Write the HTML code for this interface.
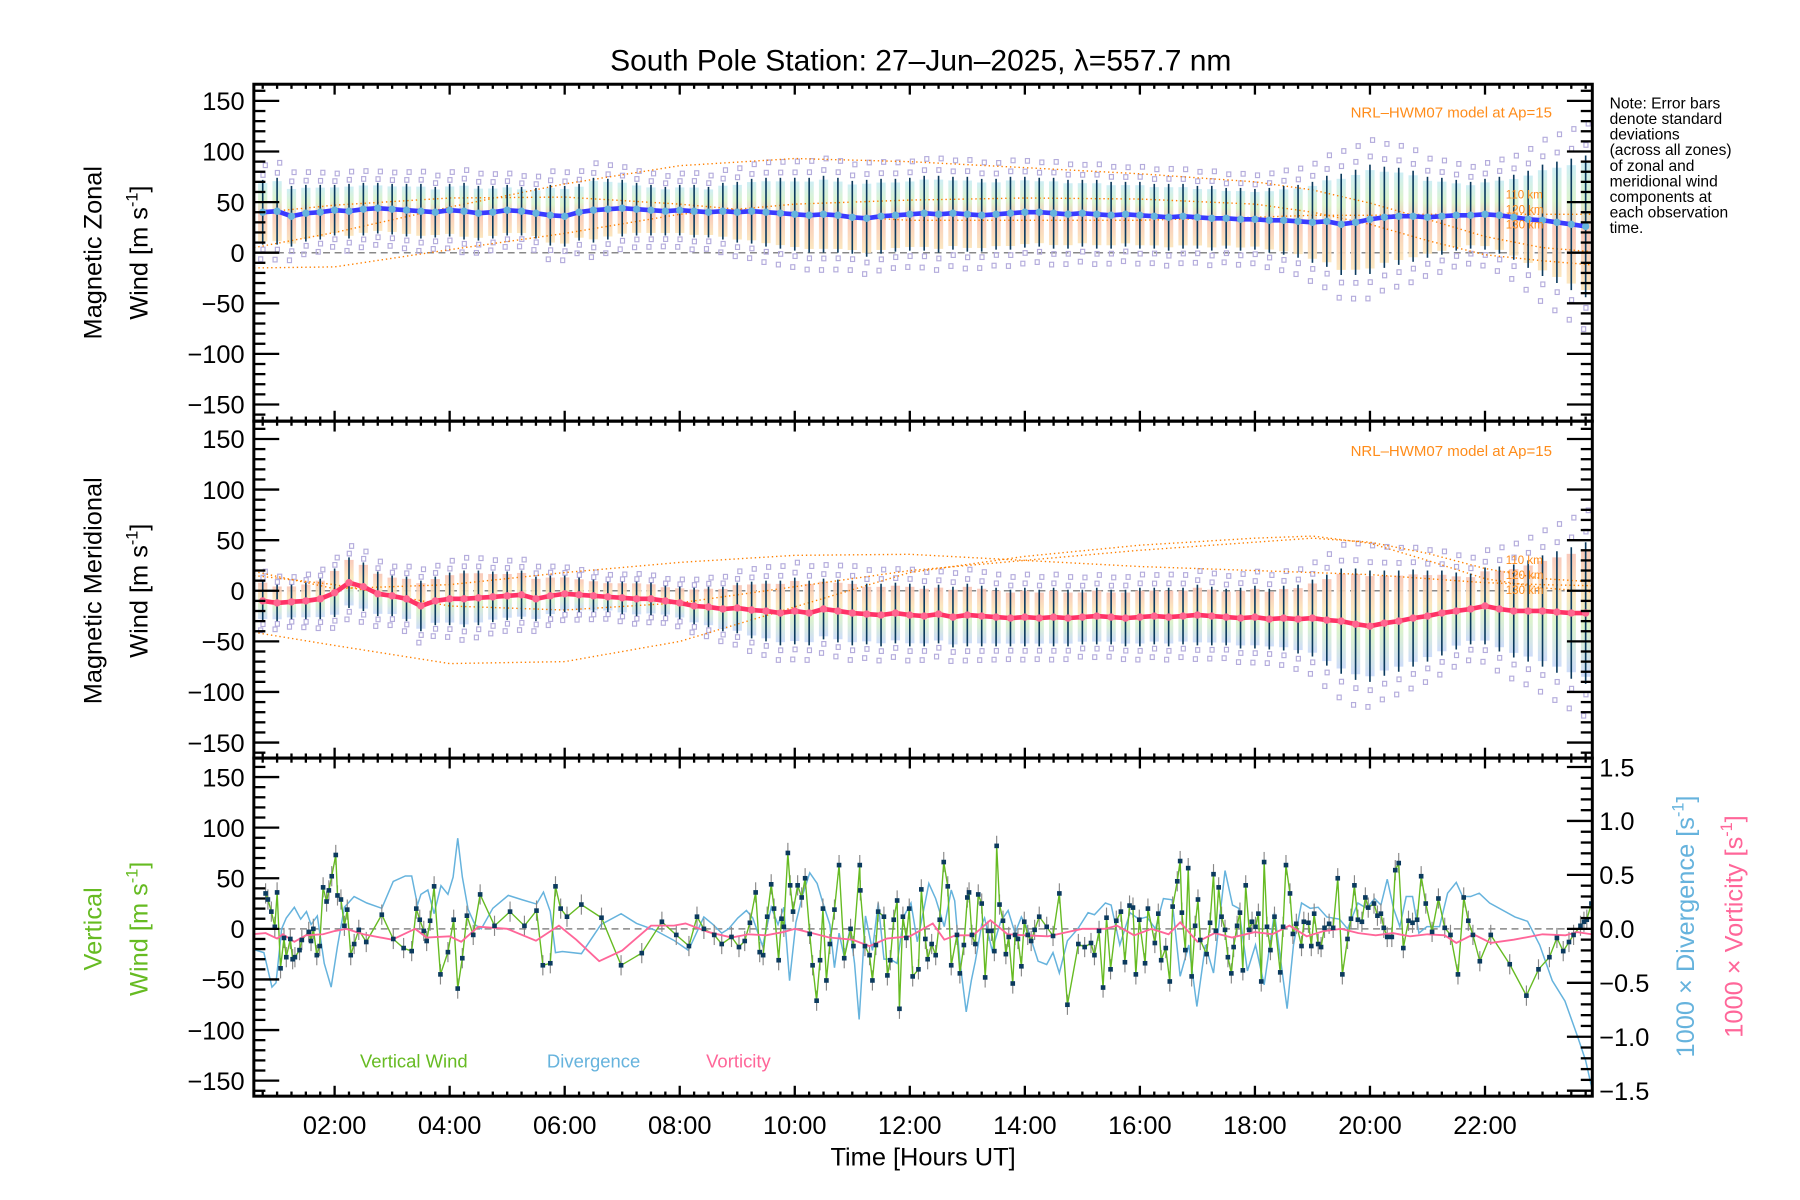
<!DOCTYPE html>
<html><head><meta charset="utf-8"><title>South Pole Station winds</title>
<style>
html,body{margin:0;padding:0;background:#fff;}
svg{display:block;}
text{font-family:"Liberation Sans","DejaVu Sans",sans-serif;}
</style></head>
<body>
<svg id="chart" width="1800" height="1200" viewBox="0 0 1560 1040" xmlns="http://www.w3.org/2000/svg">
<rect x="0" y="0" width="1560" height="1040" fill="#fff"/>
<defs>
<linearGradient id="gz" x1="0" y1="0" x2="0" y2="1">
<stop offset="0" stop-color="#c8ecf4"/><stop offset="0.3" stop-color="#d8f2c8"/><stop offset="0.55" stop-color="#f8c4b4"/><stop offset="1" stop-color="#fbe4b8"/></linearGradient>
<linearGradient id="gm" x1="0" y1="0" x2="0" y2="1">
<stop offset="0" stop-color="#f8c4b4"/><stop offset="0.35" stop-color="#fbe4b8"/><stop offset="0.6" stop-color="#d8f2c8"/><stop offset="1" stop-color="#c8d8f8"/></linearGradient>
</defs>
<text x="798" y="61" font-size="26" text-anchor="middle">South Pole Station: 27–Jun–2025, λ=557.7 nm</text>
<g id="layers"></g>
<text transform="translate(88,219) rotate(-90)" font-size="22" text-anchor="middle">Magnetic Zonal</text>
<text transform="translate(128,219) rotate(-90)" font-size="22" text-anchor="middle">Wind [m s<tspan font-size="14" dy="-9">-1</tspan><tspan dy="9">]</tspan></text>
<text transform="translate(88,512) rotate(-90)" font-size="22" text-anchor="middle">Magnetic Meridional</text>
<text transform="translate(128,512) rotate(-90)" font-size="22" text-anchor="middle">Wind [m s<tspan font-size="14" dy="-9">-1</tspan><tspan dy="9">]</tspan></text>
<text transform="translate(88,805) rotate(-90)" font-size="22" text-anchor="middle" fill="#66bb22">Vertical</text>
<text transform="translate(128,805) rotate(-90)" font-size="22" text-anchor="middle" fill="#66bb22">Wind [m s<tspan font-size="14" dy="-9">-1</tspan><tspan dy="9">]</tspan></text>
<text transform="translate(1468,803) rotate(-90)" font-size="22" text-anchor="middle" fill="#66b3dd">1000 × Divergence [s<tspan font-size="14" dy="-9">-1</tspan><tspan dy="9">]</tspan></text>
<text transform="translate(1510,803) rotate(-90)" font-size="22" text-anchor="middle" fill="#ff6699">1000 × Vorticity [s<tspan font-size="14" dy="-9">-1</tspan><tspan dy="9">]</tspan></text>
<text x="800" y="1010" font-size="22" text-anchor="middle">Time [Hours UT]</text>
<text x="312" y="925" font-size="16" fill="#66bb22">Vertical Wind</text>
<text x="474" y="925" font-size="16" fill="#66b3dd">Divergence</text>
<text x="612" y="925" font-size="16" fill="#ff6699">Vorticity</text>
<text x="1345" y="102" font-size="13" text-anchor="end" fill="#ff8c1a">NRL–HWM07 model at Ap=15</text>
<text x="1345" y="395" font-size="13" text-anchor="end" fill="#ff8c1a">NRL–HWM07 model at Ap=15</text>
<g font-size="10" fill="#ff8c1a">
<text x="1305" y="172">110 km</text><text x="1305" y="185">120 km</text><text x="1305" y="198">130 km</text></g>
<g font-size="10" fill="#ff8c1a">
<text x="1305" y="489">110 km</text><text x="1305" y="502">120 km</text><text x="1305" y="515">130 km</text></g>
<g font-size="13.5">
<text x="1395" y="94">Note: Error bars</text>
<text x="1395" y="107.5">denote standard</text>
<text x="1395" y="121">deviations</text>
<text x="1395" y="134.5">(across all zones)</text>
<text x="1395" y="148">of zonal and</text>
<text x="1395" y="161.5">meridional wind</text>
<text x="1395" y="175">components at</text>
<text x="1395" y="188.5">each observation</text>
<text x="1395" y="202">time.</text>
</g>
</svg>
<script>
// ---- data ----
const zonT = [0.75,1,1.25,1.5,1.75,2,2.25,2.5,2.75,3,3.25,3.5,3.75,4,4.25,4.5,4.75,5,5.25,5.5,5.75,6,6.25,6.5,6.75,7,7.25,7.5,7.75,8,8.25,8.5,8.75,9,9.25,9.5,9.75,10,10.25,10.5,10.75,11,11.25,11.5,11.75,12,12.25,12.5,12.75,13,13.25,13.5,13.75,14,14.25,14.5,14.75,15,15.25,15.5,15.75,16,16.25,16.5,16.75,17,17.25,17.5,17.75,18,18.25,18.5,18.75,19,19.25,19.5,19.75,20,20.25,20.5,20.75,21,21.25,21.5,21.75,22,22.25,22.5,22.75,23,23.25,23.5,23.75];
const zonMean = [40,41,36,39,40,42,41,43,44, 43,42,41,40,42,41,39,40,42, 41,39,37,36,40,42,43,44,43, 42,41,42,41,40,41,40,41,40, 39,38,37,38,37,35,34,36,37, 38,39,38,39,38,37,38,39,40, 40,39,38,39,38,37,38,37,36, 35,36,35,34,34,33,33,32,32, 31,30,31,28,30,33,35,36,36, 35,36,37,37,38,37,35,33,32, 30,28,26];
const zonSd = [32,33,30,28,27,25,27,26,25, 25,26,27,25,26,28,27,26,25, 24,25,30,30,28,32,30,28,26, 25,24,25,26,25,28,30,32,34, 35,36,37,38,37,36,38,37,36, 36,37,38,36,37,36,35,36,35, 34,35,34,33,34,33,32,33,32, 33,32,31,32,30,31,30,32,34, 36,40,45,50,52,54,50,48,45, 40,38,35,33,35,38,42,48,55, 60,65,70];
const merMean = [-10,-12,-11,-10,-8,-2,8,4,-3, -5,-8,-15,-10,-8,-8,-7,-6,-5, -4,-8,-5,-3,-4,-5,-6,-7,-8, -8,-10,-12,-15,-16,-18,-17,-19,-20, -22,-20,-22,-18,-20,-22,-23,-24,-22, -24,-25,-23,-26,-24,-25,-26,-27,-26, -27,-26,-27,-26,-25,-26,-27,-26,-25, -26,-25,-24,-25,-26,-27,-26,-28,-27, -28,-27,-29,-30,-33,-35,-32,-30,-27, -25,-22,-20,-18,-15,-18,-20,-20,-20, -21,-22,-22];
const merSd = [20,18,17,18,20,24,25,24,22, 20,22,25,24,26,28,27,25,24, 24,22,20,18,17,16,15,16,17, 16,15,16,18,20,22,25,28,30, 32,33,32,30,31,32,30,31,30, 31,30,29,30,31,30,29,28,29, 28,29,28,27,28,27,28,29,28, 29,28,30,29,28,30,31,30,32, 34,38,45,52,55,55,52,50,48, 45,42,38,35,38,42,46,50,55, 60,65,70];

const modelT = [0.6,2,4,6,8,10,12,14,16,18,19,20,21,22,23,23.85];
const zonModel110 = [5,20,45,68,86,93,90,84,78,70,62,49,33,16,5,1];
const zonModel120 = [39,47,54,55,48,38,32,32,32,35,37,37,38,38,38,38];
const zonModel130 = [-15,-14,3,19,38,48,52,54,53,48,40,28,12,-2,-8,-12];
const merModel110 = [19,2,6,18,28,35,36,30,24,20,18,16,12,8,6,5];
const merModel120 = [-41,-54,-72,-70,-50,-16,18,34,45,52,54,47,30,12,3,-1];
const merModel130 = [15,6,-15,-19,-12,4,20,30,40,48,52,48,37,22,12,9];

const vertT = [0.8,0.84,0.9,0.96,1.0,1.06,1.12,1.16,1.23,1.27,1.31,1.39,1.43,1.55,1.59,1.63,1.69,1.74,1.8,1.86,1.9,1.95,2.02,2.05,2.11,2.17,2.22,2.28,2.34,2.42,2.55,2.82,3.02,3.2,3.34,3.42,3.48,3.55,3.6,3.66,3.73,3.84,3.97,4.07,4.14,4.22,4.3,4.41,4.53,4.78,5.05,5.3,5.51,5.62,5.75,5.84,5.93,6.04,6.29,6.64,6.98,7.34,7.69,7.94,8.16,8.3,8.42,8.6,8.73,8.9,9.03,9.13,9.22,9.32,9.39,9.45,9.52,9.59,9.64,9.72,9.77,9.81,9.88,9.92,9.97,10.05,10.12,10.18,10.26,10.31,10.38,10.44,10.49,10.55,10.61,10.69,10.77,10.86,10.97,11.02,11.13,11.14,11.22,11.3,11.35,11.41,11.45,11.55,11.61,11.66,11.72,11.78,11.82,11.88,11.94,11.99,12.05,12.15,12.2,12.27,12.31,12.38,12.45,12.52,12.59,12.66,12.72,12.82,12.87,12.94,13.0,13.03,13.08,13.14,13.19,13.25,13.31,13.36,13.42,13.47,13.51,13.56,13.62,13.67,13.72,13.79,13.83,13.88,13.94,13.99,14.05,14.11,14.17,14.25,14.38,14.49,14.6,14.74,14.93,15.04,15.15,15.21,15.29,15.36,15.42,15.49,15.59,15.67,15.74,15.82,15.88,15.93,15.99,16.09,16.14,16.26,16.32,16.37,16.45,16.52,16.57,16.65,16.7,16.73,16.79,16.84,16.9,16.96,17.01,17.05,17.16,17.22,17.28,17.32,17.37,17.42,17.48,17.53,17.59,17.63,17.69,17.74,17.79,17.84,17.9,17.95,18.01,18.06,18.11,18.16,18.21,18.27,18.34,18.44,18.49,18.54,18.61,18.66,18.72,18.81,18.85,18.93,18.98,19.03,19.1,19.15,19.21,19.29,19.36,19.44,19.52,19.61,19.67,19.73,19.79,19.86,19.92,19.97,20.07,20.13,20.19,20.24,20.3,20.38,20.44,20.5,20.58,20.67,20.74,20.82,20.89,20.97,21.08,21.19,21.3,21.4,21.53,21.63,21.71,21.79,21.91,22.1,22.43,22.72,22.93,23.12,23.25,23.36,23.46,23.54,23.66,23.72,23.77,23.85];
const vertW = [35,29,17,2,36,-39,-9,-28,-10,-30,-28,-21,-11,-3,-12,0,-26,-17,41,27,38,52,73,33,29,3,19,-26,-15,-1,-13,14,-10,-19,-22,20,9,-2,-12,8,42,-45,-23,9,-59,-29,13,-6,34,3,17,3,18,-36,-34,42,20,12,24,11,-36,-24,7,-6,-17,12,0,-6,-15,-8,-18,-12,6,36,-23,-26,12,44,20,-31,10,2,75,43,17,43,31,50,-5,-36,-71,-31,20,-51,-15,19,63,-29,0,-17,63,38,-17,-26,-51,-16,17,12,-46,-31,9,28,-79,12,-9,20,-47,-40,39,-10,-30,-15,-26,9,66,42,-36,-6,-44,-16,31,36,-6,-15,34,25,-48,-2,-2,-22,82,24,8,-25,-8,-54,-6,-10,-37,7,-6,-12,-1,12,2,-7,35,-75,-15,-18,-14,-26,-2,-58,11,-40,8,17,-33,23,21,-45,9,-34,20,-14,15,-31,-19,-52,22,47,67,16,-21,60,-47,3,29,-11,-25,6,54,-2,41,12,-1,-28,-44,-18,3,16,-41,43,-1,7,2,15,-52,66,2,-21,12,-43,2,63,35,-5,5,-17,7,6,-17,15,-15,-18,1,5,1,50,-45,-10,10,43,9,7,31,21,25,13,15,1,-8,-8,58,65,-19,8,6,9,52,25,-3,30,1,-6,-45,31,8,-6,-32,-6,-35,-66,-40,-28,-9,-22,-13,-6,3,7,9,25];
const VERT_ERR = 10;

const divT = [0.59,0.77,0.91,0.98,1.08,1.16,1.30,1.41,1.51,1.59,1.70,1.82,1.94,2.05,2.17,2.34,2.56,2.82,3.02,3.23,3.34,3.44,3.50,3.62,3.73,3.85,3.97,4.06,4.14,4.22,4.32,4.44,4.55,4.75,5.02,5.26,5.51,5.63,5.75,5.84,5.96,6.29,6.63,6.98,7.25,7.56,7.91,8.15,8.42,8.58,8.73,8.85,9.01,9.16,9.27,9.44,9.59,9.71,9.81,9.91,10.02,10.14,10.26,10.39,10.49,10.61,10.69,10.77,10.86,10.96,11.04,11.12,11.23,11.35,11.45,11.55,11.66,11.78,11.90,12.02,12.13,12.25,12.33,12.45,12.60,12.72,
12.78,12.87,12.98,13.07,13.14,13.25,13.30,13.43,13.58,13.71,13.83,13.94,14.05,14.23,14.38,14.49,14.60,14.74,14.92,15.10,15.21,15.40,15.50,15.65,15.83,15.98,16.12,16.27,16.41,16.56,16.70,16.85,16.99,17.14,17.28,17.48,17.61,17.72,17.87,18.01,18.16,18.34,18.45,18.56,18.67,18.81,18.96,19.10,19.25,19.47,19.61,19.79,19.94,20.08,20.19,20.30,20.41,20.52,20.63,20.74,20.85,20.99,21.21,21.35,21.50,21.61,21.75,21.90,22.08,22.52,22.74,22.95,23.17,23.39,23.61,23.75,23.86];
const divV = [-0.19,-0.22,-0.54,-0.5,0,0.1,0.2,0.09,0.16,0.04,0.12,-0.32,-0.54,-0.16,0.2,0.3,0.24,0.19,0.44,0.49,0.49,0.22,0.32,0.36,0.14,0.4,0.32,0.48,0.84,0.48,0.18,0.04,0,0.19,0.31,0.27,0.23,0.34,0.16,-0.22,-0.21,-0.23,0.04,0.14,0.05,-0.01,-0.11,-0.2,0.11,0.04,-0.04,0,0.1,0.17,0.1,-0.16,0.2,0.04,0.2,-0.48,0.06,0.32,0.52,0.42,0.24,0.04,-0.36,-0.04,-0.26,0,-0.32,-0.84,0.12,-0.2,0.24,-0.28,-0.28,-0.32,0.12,0.24,-0.12,0.2,0.42,0.28,0.02,0.36,
0.26,-0.3,-0.77,-0.48,-0.3,0.04,0.1,-0.2,0.07,0.17,-0.04,0.11,0,-0.3,-0.33,-0.22,-0.41,-0.11,0,0.15,0.13,0.24,0.22,-0.15,0.15,0.09,0.11,0,0.28,0.27,-0.44,-0.15,-0.72,-0.15,-0.41,0.54,0.22,0.19,-0.39,-0.15,-0.52,0.15,-0.3,-0.74,-0.15,0.24,0.19,0.2,0.11,0.09,0,0.24,0.19,0.28,0.22,0.46,0.19,0.02,0.3,0.3,-0.04,0.02,0.02,0.33,0.43,0.3,0.3,0.33,0.24,0.11,0.07,-0.15,-0.48,-0.67,-1.0,-1.22,-1.48];

const vortT = [0.55,0.8,1.0,1.1,1.3,1.5,1.8,2.0,2.2,2.5,3.0,3.4,3.6,4.0,4.2,4.5,5.0,5.5,5.9,6.2,6.6,7.0,7.5,7.9,8.1,8.5,8.9,9.2,9.5,9.8,10.0,10.3,10.6,11.0,11.3,11.6,12.0,12.4,12.6,12.8,13.1,13.4,13.7,14.0,14.4,15.0,15.4,15.6,15.9,16.2,16.5,16.7,17.0,17.3,17.6,18.0,18.3,18.6,18.9,19.2,19.5,19.8,20.1,20.4,20.7,21.0,21.3,21.5,21.8,22.1,22.5,23.0,23.4,23.6,23.85];
const vortV = [-0.05,-0.04,-0.09,-0.05,-0.12,-0.06,-0.05,-0.02,0,-0.05,-0.1,0,-0.08,-0.07,-0.12,0.02,0,-0.11,0.03,-0.1,-0.3,-0.2,0.03,0.03,0.05,-0.03,-0.08,-0.05,-0.06,-0.03,0,-0.04,-0.08,-0.1,-0.16,-0.09,-0.07,0.05,-0.1,-0.06,-0.06,0.08,-0.05,-0.06,-0.07,0,0,0.03,-0.06,0,-0.05,0.06,-0.12,-0.04,-0.08,-0.03,-0.05,0.03,-0.07,-0.02,0,-0.04,-0.06,-0.04,-0.07,-0.05,-0.06,-0.13,-0.05,-0.13,-0.1,-0.05,-0.06,-0.03,-0.05];

const xTickHours = [2,4,6,8,10,12,14,16,18,20,22];
const xTickLabels = ["02:00","04:00","06:00","08:00","10:00","12:00","14:00","16:00","18:00","20:00","22:00"];
const yTickVals = [150,100,50,0,-50,-100,-150];
const yTickLabels = ["150","100","50","0","\u221250","\u2212100","\u2212150"];
const rTickVals = [1.5,1.0,0.5,0.0,-0.5,-1.0,-1.5];
const rTickLabels = ["1.5","1.0","0.5","0.0","\u22120.5","\u22121.0","\u22121.5"];

// ---- scales ----
const L=220, R=1380;
const panels=[{top:73,bot:365,zero:219},{top:365,bot:657,zero:512},{top:657,bot:950,zero:805}];
const X = h => 190.3 + 49.85*h;
const PY = 0.877;
const Yp = (p,v) => panels[p].zero - v*PY;
const YR = d => 805 - d*93.5;
const NS="http://www.w3.org/2000/svg";
const root=document.getElementById('layers');
function mk(tag,attrs,parent){const e=document.createElementNS(NS,tag);for(const k in attrs)e.setAttribute(k,attrs[k]);(parent||root).appendChild(e);return e;}
function grp(name){const g=document.createElementNS(NS,'g');


root.appendChild(g);return g;}
function clip(id,p){const c=mk('clipPath',{id:id});mk('rect',{x:L,y:panels[p].top,width:R-L,height:panels[p].bot-panels[p].top},c);}
clip('c0',0);clip('c1',1);clip('c2',2);

for(let p=0;p<3;p++){const z=mk('line',{x1:L,x2:R,y1:panels[p].zero,y2:panels[p].zero,stroke:'#888','stroke-width':1.3,'stroke-dasharray':'6,4'});

}

function windPanel(p,T,M,S,grad,lineCol,dotCol,models,nm){
  const g=grp(nm+'-series'); g.setAttribute('clip-path','url(#c'+p+')');
  for(let i=0;i<T.length;i++){const x=X(T[i]);
    const b=mk('rect',{x:x-4,y:Yp(p,M[i]+S[i]*0.9),width:8,height:S[i]*1.8*PY,fill:'url(#'+grad+')',opacity:0.9},g);
    
    }
  for(let i=0;i<T.length;i++){const x=X(T[i]);
    for(const f of [1.15,1.45,-1.15,-1.45]){const q=mk('rect',{x:x-1.5+(f>0?1:-1)*(Math.abs(f)>1.3?2:0),y:Yp(p,M[i]+S[i]*f)-2,width:3.5,height:4,fill:'none',stroke:'#b4acdc','stroke-width':1},g);
      
      }}
  models.forEach((mv,k)=>{let d='';modelT.forEach((t,i)=>{d+=(i?'L':'M')+X(t).toFixed(1)+','+Yp(p,mv[i]).toFixed(1);});
    const m=mk('path',{d:d,fill:'none',stroke:'#ff8000','stroke-width':1.2,'stroke-dasharray':'1.2,2.5'},g);
    
    });
  for(let i=0;i<T.length;i++){const x=X(T[i]);
    const e=mk('line',{x1:x,x2:x,y1:Yp(p,M[i]+S[i]),y2:Yp(p,M[i]-S[i]),stroke:'#0b3a5e','stroke-width':1.4},g);
    
    }
  let d='';T.forEach((t,i)=>{d+=(i?'L':'M')+X(t).toFixed(1)+','+Yp(p,M[i]).toFixed(1);});
  const ln=mk('path',{d:d,fill:'none',stroke:lineCol,'stroke-width':4},g);
  
  
  for(let i=0;i<T.length;i++){const c=mk('circle',{cx:X(T[i]),cy:Yp(p,M[i]),r:3.2,fill:dotCol},g);
    
    }
}
windPanel(0,zonT,zonMean,zonSd,'gz','#3a3aff','#66b3dd',[zonModel110,zonModel120,zonModel130],'zonal');
windPanel(1,zonT,merMean,merSd,'gm','#ff3366','#ff6690',[merModel110,merModel120,merModel130],'meridional');

(function(){
  const g=grp('vertical-panel-series'); g.setAttribute('clip-path','url(#c2)');
  let d='';divT.forEach((t,i)=>{d+=(i?'L':'M')+X(t).toFixed(1)+','+YR(divV[i]).toFixed(1);});
  const dv=mk('path',{d:d,fill:'none',stroke:'#66b3dd','stroke-width':1.3},g);
  
  
  for(let i=0;i<vertT.length;i++){const x=X(vertT[i]);
    const e=mk('line',{x1:x,x2:x,y1:Yp(2,vertW[i]+VERT_ERR),y2:Yp(2,vertW[i]-VERT_ERR),stroke:'#888','stroke-width':1},g);
    
    }
  d='';vertT.forEach((t,i)=>{d+=(i?'L':'M')+X(t).toFixed(1)+','+Yp(2,vertW[i]).toFixed(1);});
  const vw=mk('path',{d:d,fill:'none',stroke:'#66bb22','stroke-width':1.2},g);
  
  
  d='';vortT.forEach((t,i)=>{d+=(i?'L':'M')+X(t).toFixed(1)+','+YR(vortV[i]).toFixed(1);});
  const vo=mk('path',{d:d,fill:'none',stroke:'#ff6699','stroke-width':1.6},g);
  
  
  for(let i=0;i<vertT.length;i++){const s=mk('rect',{x:X(vertT[i])-2,y:Yp(2,vertW[i])-2,width:4,height:4,fill:'#0b3a5e'},g);
    
    }
})();

const ax=grp('axes');
for(let p=0;p<3;p++){const P=panels[p];
  const fr=mk('rect',{x:L,y:P.top,width:R-L,height:P.bot-P.top,fill:'none',stroke:'#000','stroke-width':2.6},ax);
  
  
  for(let v=-160;v<=160;v+=10){const y=Yp(p,v);if(y<P.top+1||y>P.bot-1)continue;const len=(v%50===0)?22:10;
    mk('line',{x1:L,x2:L+len,y1:y,y2:y,stroke:'#000','stroke-width':2},ax);
    if(p<2) mk('line',{x1:R,x2:R-len,y1:y,y2:y,stroke:'#000','stroke-width':2},ax);}
  for(let m=0;m<=24*4;m++){const h=m/4;const x=X(h);if(x<=L+1||x>=R-1)continue;const len=(m%8===0)?9:4;
    mk('line',{x1:x,x2:x,y1:P.bot,y2:P.bot-len,stroke:'#000','stroke-width':2},ax);
    mk('line',{x1:x,x2:x,y1:P.top,y2:P.top+len,stroke:'#000','stroke-width':2},ax);}
  yTickVals.forEach((v,i)=>{const t=mk('text',{x:212,y:Yp(p,v)+8,'font-size':22,'text-anchor':'end'},ax);t.textContent=yTickLabels[i];
    
    });
}
for(let k=-16;k<=16;k++){const d=k/10;const y=YR(d);if(y<657||y>950)continue;const len=(k%5===0)?22:10;
  mk('line',{x1:R,x2:R-len,y1:y,y2:y,stroke:'#000','stroke-width':2},ax);}
rTickVals.forEach((v,i)=>{const t=mk('text',{x:1386,y:YR(v)+8,'font-size':22},ax);t.textContent=rTickLabels[i];
  
  });
xTickHours.forEach((h,i)=>{const t=mk('text',{x:X(h),y:983,'font-size':22,'text-anchor':'middle'},ax);t.textContent=xTickLabels[i];
  
  });
</script>
</body></html>
